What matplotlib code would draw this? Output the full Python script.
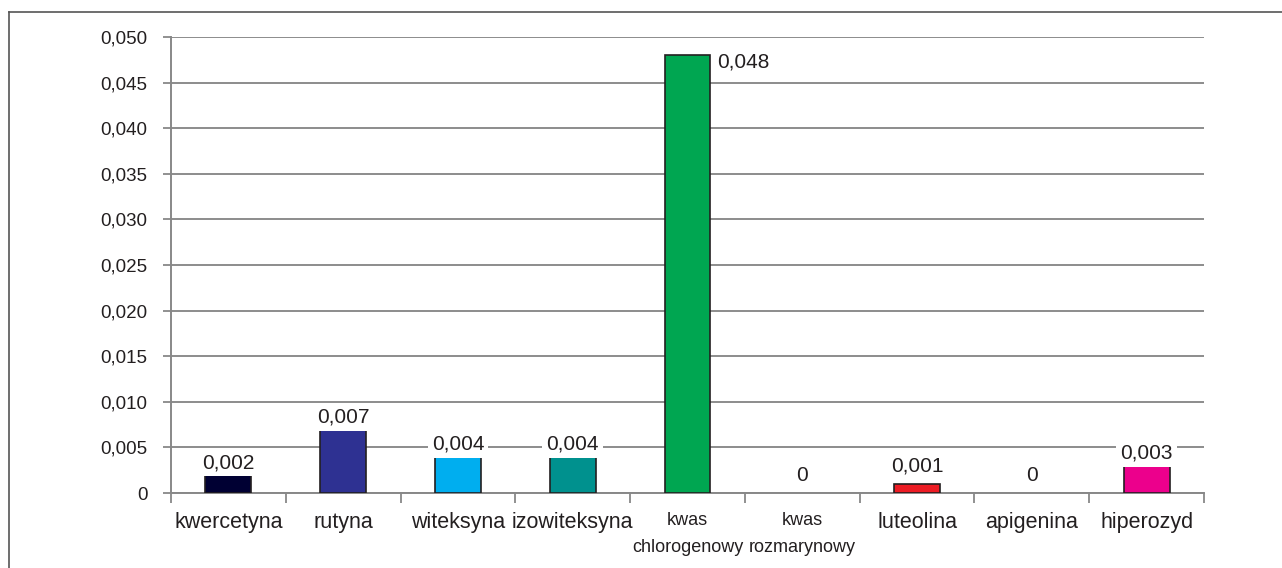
import matplotlib.pyplot as plt
from matplotlib.lines import Line2D
import numpy as np

plt.rcParams['font.family'] = ['Liberation Sans', 'DejaVu Sans']

# dane
categories = ['kwercetyna', 'rutyna', 'witeksyna', 'izowiteksyna', 'kwas\nchlorogenowy',
              'kwas\nrozmarynowy', 'luteolina', 'apigenina', 'hiperozyd']
values = [0.002, 0.007, 0.004, 0.004, 0.048, 0.0, 0.001, 0.0, 0.003]
labels = ['0,002', '0,007', '0,004', '0,004', '0,048', '0', '0,001', '0', '0,003']
colors = ['#000033', '#2E3192', '#00AEEF', '#00918E', '#00A651',
          '#FFFFFF', '#ED1C24', '#FFFFFF', '#EC008C']
yticks = [0, 0.005, 0.010, 0.015, 0.020, 0.025, 0.030, 0.035, 0.040, 0.045, 0.050]
ytick_labels = ['0', '0,005', '0,010', '0,015', '0,020', '0,025', '0,030', '0,035',
                '0,040', '0,045', '0,050']

fig = plt.figure(figsize=(12.82, 5.68), dpi=100)
ax = fig.add_axes([0.1334, 0.132, 0.8058, 0.8029])

x = np.arange(len(categories))
for xi, v, c in zip(x, values, colors):
    if v > 0:
        ax.bar(xi, v, 0.4, color=c, edgecolor='#231F20', linewidth=1.2, zorder=3)

# etykiety wartości
for xi, v, lab in zip(x, values, labels):
    if v == max(values):
        ax.annotate(lab, (xi + 0.2, v), xytext=(5, 2), textcoords='offset points',
                    ha='left', va='top', fontsize=15, color='#231F20', zorder=4)
    else:
        off = 6 if v <= 0.001 else 2
        ax.annotate(lab, (xi, v), xytext=(0, off), textcoords='offset points',
                    ha='center', va='bottom', fontsize=15, color='#231F20', zorder=4,
                    bbox=dict(boxstyle='square,pad=0.2', fc='white', ec='none'))

ax.set_xlim(-0.5, len(categories) - 0.5)
ax.set_ylim(0, 0.050)
ax.set_yticks(yticks)
ax.set_yticklabels(ytick_labels, fontsize=13.5)
ax.set_xticks(x)
ax.set_xticklabels(categories, fontsize=15.5, color='#231F20', linespacing=1.75)
# dwuwierszowe etykiety są węższe w oryginale
for t, name in zip(ax.get_xticklabels(), categories):
    if '\n' in name:
        t.set_fontsize(13)
ax.set_xticks(np.arange(-0.5, len(categories)), minor=True)
ax.tick_params(axis='x', which='major', length=0, pad=14)
ax.tick_params(axis='x', which='minor', length=7, width=1.3, color='#888888', direction='out')
ax.tick_params(axis='y', length=6, width=1.3, color='#888888', labelcolor='#231F20', pad=11)

ax.grid(axis='y', color='#8C8C8C', linewidth=1.4, zorder=0)
for s in ['top', 'right']:
    ax.spines[s].set_visible(False)
for s in ['left', 'bottom']:
    ax.spines[s].set_color('#888888')
    ax.spines[s].set_linewidth(1.4)

# ramka
fig.add_artist(Line2D([9 / 1282, 1], [1 - 12 / 568, 1 - 12 / 568], color='#555555', lw=1.2))
fig.add_artist(Line2D([9 / 1282, 9 / 1282], [0, 1 - 12 / 568], color='#555555', lw=1.2))

plt.savefig('out.png', dpi=100)
